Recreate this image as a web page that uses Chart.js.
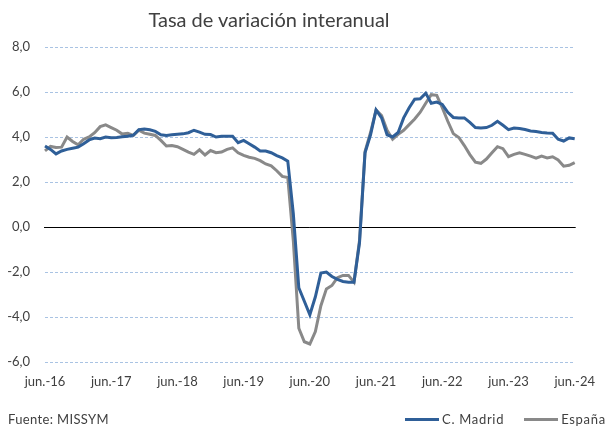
<!DOCTYPE html>
<html>
<head>
<meta charset="utf-8">
<script src="https://cdn.jsdelivr.net/npm/chart.js@4/dist/chart.umd.min.js"></script>
<style>
  html, body { margin: 0; padding: 0; background: #ffffff; }
  body { width: 607px; height: 427px; overflow: hidden; position: relative; font-family: Lato, "Open Sans", sans-serif; }
  #c { position: absolute; left: 0; top: 0; }
  #title { position: absolute; left: 0; top: 7px; width: 538px; text-align: center; font-size: 20px; color: #404040; white-space: nowrap; }
  #src { position: absolute; left: 8px; top: 411px; font-size: 13px; letter-spacing: 0.35px; color: #404040; white-space: nowrap; }
  #leg { position: absolute; left: 405px; top: 411px; font-size: 13px; letter-spacing: 0.7px; color: #404040; white-space: nowrap; }
  .ln { display: inline-block; width: 34px; height: 3px; vertical-align: middle; margin-right: 3px; position: relative; top: -1px; }
  .it { display: inline-block; margin-right: 20px; }
</style>
</head>
<body>
<canvas id="c" width="607" height="427"></canvas>
<div id="title">Tasa de variación interanual</div>
<div id="src">Fuente: MISSYM</div>
<div id="leg"><span class="it"><span class="ln" style="background:#2F5F98"></span>C. Madrid</span><span class="it"><span class="ln" style="background:#898989"></span>España</span></div>
<script>
const months = [
  "jun.-16","jul.-16","ago.-16","sep.-16","oct.-16","nov.-16","dic.-16","ene.-17","feb.-17","mar.-17","abr.-17","may.-17",
  "jun.-17","jul.-17","ago.-17","sep.-17","oct.-17","nov.-17","dic.-17","ene.-18","feb.-18","mar.-18","abr.-18","may.-18",
  "jun.-18","jul.-18","ago.-18","sep.-18","oct.-18","nov.-18","dic.-18","ene.-19","feb.-19","mar.-19","abr.-19","may.-19",
  "jun.-19","jul.-19","ago.-19","sep.-19","oct.-19","nov.-19","dic.-19","ene.-20","feb.-20","mar.-20","abr.-20","may.-20",
  "jun.-20","jul.-20","ago.-20","sep.-20","oct.-20","nov.-20","dic.-20","ene.-21","feb.-21","mar.-21","abr.-21","may.-21",
  "jun.-21","jul.-21","ago.-21","sep.-21","oct.-21","nov.-21","dic.-21","ene.-22","feb.-22","mar.-22","abr.-22","may.-22",
  "jun.-22","jul.-22","ago.-22","sep.-22","oct.-22","nov.-22","dic.-22","ene.-23","feb.-23","mar.-23","abr.-23","may.-23",
  "jun.-23","jul.-23","ago.-23","sep.-23","oct.-23","nov.-23","dic.-23","ene.-24","feb.-24","mar.-24","abr.-24","may.-24",
  "jun.-24"
];

const madrid = [
  3.60, 3.45, 3.25, 3.38, 3.45, 3.50, 3.55, 3.70, 3.87, 3.95, 3.92, 4.00,
  3.97, 3.98, 4.01, 4.03, 4.08, 4.33, 4.35, 4.32, 4.25, 4.10, 4.07, 4.10,
  4.12, 4.14, 4.19, 4.30, 4.22, 4.12, 4.11, 4.00, 4.03, 4.03, 4.03, 3.75,
  3.85, 3.70, 3.55, 3.38, 3.38, 3.30, 3.17, 3.07, 2.93, 0.60, -2.70, -3.30,
  -3.90, -3.10, -2.05, -2.00, -2.20, -2.33, -2.42, -2.45, -2.45, -0.70, 3.30, 4.10,
  5.20, 4.85, 4.10, 4.00, 4.20, 4.85, 5.30, 5.68, 5.70, 5.95, 5.50, 5.55,
  5.45, 5.10, 4.87, 4.85, 4.85, 4.65, 4.42, 4.40, 4.42, 4.52, 4.70, 4.52,
  4.33, 4.40, 4.38, 4.33, 4.27, 4.24, 4.20, 4.18, 4.17, 3.90, 3.82, 3.96,
  3.92
];

const espana = [
  3.38, 3.58, 3.53, 3.55, 4.00, 3.80, 3.65, 3.90, 4.00, 4.19, 4.46, 4.54,
  4.42, 4.30, 4.13, 4.17, 4.07, 4.30, 4.17, 4.12, 4.07, 3.85, 3.60, 3.62,
  3.57, 3.45, 3.33, 3.23, 3.43, 3.20, 3.40, 3.30, 3.33, 3.45, 3.52, 3.30,
  3.18, 3.10, 3.05, 2.95, 2.80, 2.72, 2.50, 2.25, 2.20, -0.60, -4.50, -5.10,
  -5.20, -4.65, -3.50, -2.75, -2.60, -2.25, -2.15, -2.15, -2.45, -0.60, 3.35, 4.20,
  5.20, 4.95, 4.30, 3.90, 4.12, 4.30, 4.55, 4.80, 5.10, 5.50, 5.88, 5.85,
  5.30, 4.70, 4.15, 3.98, 3.62, 3.22, 2.88, 2.83, 3.02, 3.30, 3.57, 3.48,
  3.13, 3.23, 3.30, 3.23, 3.15, 3.06, 3.15, 3.07, 3.12, 2.98, 2.70, 2.74,
  2.86
];

const yTicks = [-6, -4, -2, 0, 2, 4, 6, 8];
const seriesNames = ["C. Madrid", "España"];

const zeroLine = {
  id: 'zeroLine',
  beforeDatasetsDraw(chart) {
    const { ctx, chartArea, scales } = chart;
    const y = Math.round(scales.y.getPixelForValue(0)) + 0.5;
    ctx.save();
    ctx.strokeStyle = '#000000';
    ctx.lineWidth = 1;
    ctx.beginPath();
    ctx.moveTo(chartArea.left - 1, y);
    ctx.lineTo(chartArea.right + 1, y);
    ctx.stroke();
    ctx.restore();
  }
};

new Chart(document.getElementById('c'), {
  type: 'line',
  data: {
    labels: months,
    datasets: [
      { label: seriesNames[0], data: madrid, borderColor: '#2F5F98', backgroundColor: '#2F5F98', borderWidth: 3, pointRadius: 0, tension: 0 },
      { label: seriesNames[1], data: espana, borderColor: '#898989', backgroundColor: '#898989', borderWidth: 3, pointRadius: 0, tension: 0 }
    ]
  },
  options: {
    responsive: false,
    animation: false,
    devicePixelRatio: 1,
    layout: { padding: { left: 0, right: 23, top: 47, bottom: 35 } },
    plugins: { legend: { display: false }, title: { display: false }, tooltip: { enabled: false } },
    scales: {
      x: {
        type: 'category',
        offset: false,
        grid: { display: false, drawTicks: false },
        border: { display: false },
        afterFit(scale) { scale.height = 30; },
        ticks: {
          autoSkip: false, maxRotation: 0, minRotation: 0, padding: 12,
          color: '#404040', font: { family: 'Lato', size: 13 },
          callback(v, i) { const l = months[i]; return l.startsWith('jun.') ? l : null; }
        }
      },
      y: {
        min: -6, max: 8,
        afterBuildTicks(scale) { scale.ticks = yTicks.map(v => ({ value: v })); },
        afterFit(scale) { scale.width = 45; },
        grid: { color: ctx => (ctx.tick && ctx.tick.value === 0) ? 'rgba(0,0,0,0)' : '#A9C3E3', lineWidth: 1, drawTicks: false },
        border: { display: false, dash: [3, 2] },
        ticks: {
          padding: 15, color: '#404040', font: { family: 'Lato', size: 13 },
          callback(v) { return v.toFixed(1).replace('.', ','); }
        }
      }
    }
  },
  plugins: [zeroLine]
});
</script>
</body>
</html>
